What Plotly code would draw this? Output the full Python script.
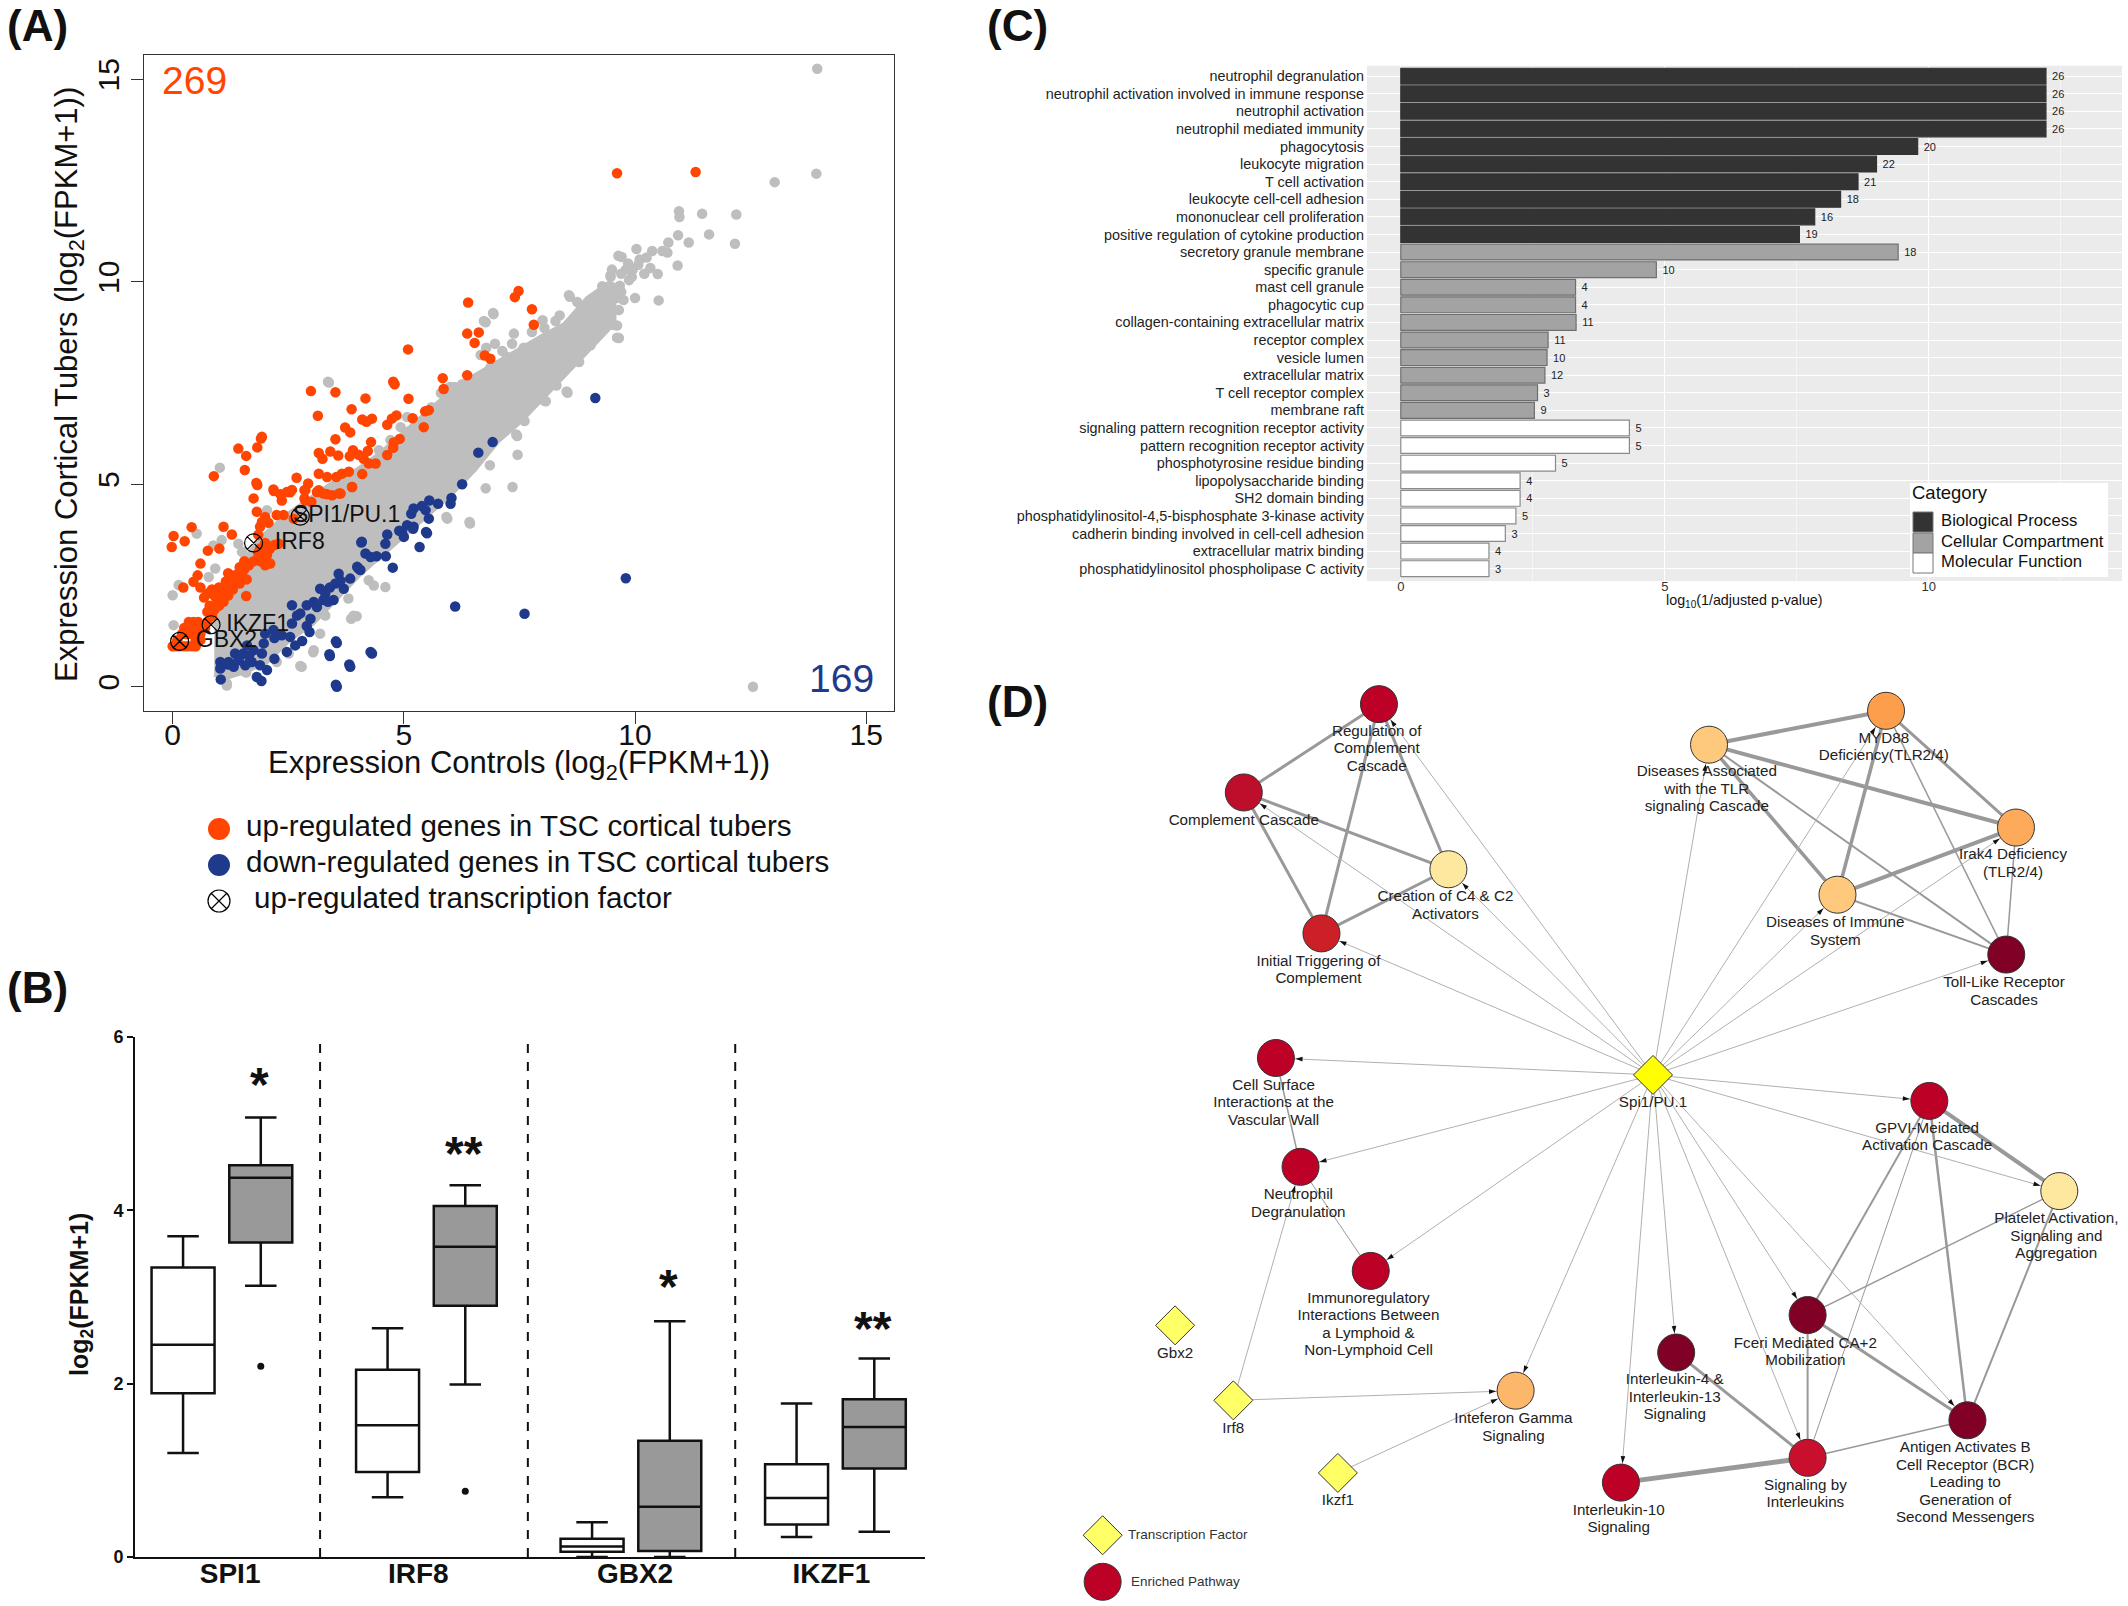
import math
import plotly.graph_objects as go

W, H = 2128, 1606

# ---------- Panel A data: (x, y) ----------
band_x = [0.9, 1.2, 1.5, 2.0, 2.5, 3.0, 3.5, 4.0, 4.5, 5.0, 5.5, 6.0, 6.5, 7.0, 7.5, 8.0, 8.5, 9.0, 9.5]
band_up = [1.5, 2.4, 3.0, 3.7, 4.2, 4.6, 5.0, 5.3, 5.7, 6.2, 6.7, 7.2, 7.6, 7.95, 8.3, 8.6, 8.9, 9.55, 9.95]
band_lo = [0.35, 0.3, 0.4, 0.65, 1.2, 1.6, 2.2, 2.8, 3.3, 3.8, 4.3, 4.8, 5.4, 6.1, 6.6, 7.2, 7.8, 8.4, 9.0]

gray_pts = [
(8.57,9.67),(6.93,9.23),(6.73,9.03),(8.0,9.05),(8.37,9.17),(8.28,9.03),(8.04,8.86),(7.77,8.76),(7.38,8.72),(7.34,8.47),
(7.59,8.37),(6.97,8.47),(6.78,8.37),(7.13,8.29),(6.66,8.19),(7.23,8.14),(6.87,7.88),(8.75,9.5),(9.47,10.16),(9.29,9.89),
(9.64,10.64),(9.54,8.93),(9.61,8.62),(8.52,7.29),(8.04,7.06),(8.3,7.44),(7.61,6.56),(7.43,6.23),(6.26,7.47),(6.0,7.4),
(6.51,7.36),(6.77,7.53),(8.79,8.02),(9.04,8.43),(13.94,15.26),(13.92,12.67),(13.02,12.46),(10.95,11.74),(10.96,11.6),
(11.45,11.68),(12.19,11.66),(10.93,11.15),(11.6,11.17),(11.16,10.97),(12.16,10.94),(10.72,10.97),(10.03,10.81),(10.37,10.76),
(10.59,10.76),(10.7,10.72),(9.71,10.61),(10.07,10.42),(10.33,10.34),(10.49,10.19),(10.92,10.4),(9.93,10.12),(10.0,9.6),
(10.51,9.54),(9.65,9.3),(9.47,10.12),(9.32,9.87),(9.61,8.92),(9.65,8.61),(8.59,9.63),(12.55,0.0),(9.67,9.9),(9.87,10.04),
(10.2,10.2),(3.38,7.51),(1.02,5.41),(6.77,9.0),(6.94,9.2),(8.54,7.26),(8.07,7.05),(7.46,5.73),(7.45,6.19),(7.35,4.93),
(6.77,4.9),(6.43,4.03),(5.94,4.15),(6.86,5.47),(4.35,2.5),(4.6,2.46),(3.86,1.68),(3.98,1.74),(3.04,0.85),(2.79,0.49),
(1.17,0.03),(1.59,0.35),(0.0,2.26),(0.13,2.51),(0.02,1.52),(0.88,3.49),(1.06,3.62),(0.52,3.78),(0.78,2.71),(0.92,2.92),
(2.04,4.36),(1.42,3.53),(1.5,3.33),(3.91,1.75),(3.8,2.18),(3.19,1.31),(3.05,0.9),(2.76,0.51),(3.3,1.76),(1.57,0.37),
(1.17,0.08),(2.25,0.61),(2.51,0.82),(4.24,2.63),(3.36,7.53),(4.93,6.41),(5.92,4.19),(6.42,4.07),(5.07,6.66),(4.71,6.09),(4.46,5.84),
(5.8,7.25),(6.1,7.4),(6.3,7.45),(5.6,6.9),(5.3,6.4),(5.1,6.3),(9.7,10.2),(9.8,10.3),(9.6,9.6),(9.7,9.75),(9.5,10.3),
(9.85,10.45),(9.95,10.3),(10.1,10.55),(10.25,10.6),(9.75,9.55),
]
up_pts = [
(-0.02,3.45),(0.02,3.72),(0.26,3.59),(0.41,3.94),(1.10,3.95),(1.28,3.76),(0.76,3.36),(1.01,3.41),(0.60,3.04),(0.23,2.45),
(0.54,2.75),(0.45,2.59),(0.60,2.45),(1.59,2.24),(0.0,1.0),(0.08,1.0),(0.16,1.0),(0.25,1.0),(0.33,1.0),(0.42,1.0),(0.5,1.0),
(0.1,1.15),(0.5,1.15),(0.6,1.15),(0.2,1.3),(0.3,1.3),(0.4,1.3),(0.5,1.3),(0.6,1.3),(0.25,1.45),(0.35,1.45),(0.45,1.45),
(0.6,1.45),(0.7,1.45),(0.35,1.6),(0.45,1.6),(0.55,1.6),(0.75,1.6),(0.85,1.75),(0.75,1.85),(0.9,1.9),(1.0,2.0),(0.8,2.0),
(0.95,2.1),(1.1,2.1),(0.9,2.25),(1.05,2.3),(1.2,2.25),(1.0,2.45),(0.85,2.4),(0.75,2.3),(0.68,2.2),(1.15,2.4),(1.3,2.4),
(1.15,2.6),(1.3,2.6),(1.45,2.55),(1.35,2.75),(1.2,2.8),(1.5,2.75),(1.6,2.65),(1.45,2.95),(1.55,2.9),(1.65,3.0),(1.55,3.1),
(1.75,3.1),(1.9,3.1),(2.0,3.0),(1.95,3.2),(1.85,3.3),(2.1,3.4),(2.2,3.5),(2.0,3.55),(1.85,3.75),(1.82,4.32),(1.93,4.07),
(1.89,3.95),(2.07,4.05),(2.40,4.24),(2.62,4.15),(2.25,4.24),(2.0,4.19),(1.75,4.65),(1.81,5.03),(2.18,4.87),(2.33,4.75),
(2.47,4.81),(2.87,4.85),(2.87,4.6),(3.16,4.85),(3.34,4.75),(3.6,4.77),(3.88,4.93),(2.29,3.53),(1.89,3.41),(2.04,3.25),(2.11,3.04),
(5.09,8.33),(6.37,8.72),(6.53,8.49),(5.84,7.62),(6.37,7.69),(5.86,7.35),(4.77,7.53),(4.80,7.47),(2.99,7.3),(3.52,7.27),
(4.17,7.12),(5.1,7.11),(3.87,6.85),(5.46,6.8),(5.54,6.83),(3.14,6.69),(5.19,6.63),(4.1,6.6),(4.19,6.54),(4.31,6.62),
(4.64,6.47),(4.74,6.62),(4.84,6.7),(3.73,6.4),(3.84,6.28),(5.43,6.41),(3.52,6.11),(4.29,6.04),(4.91,6.12),(4.78,6.03),
(4.77,5.9),(3.16,5.77),(3.41,5.81),(3.58,5.71),(3.24,5.63),(3.9,5.84),(3.83,5.69),(4.02,5.73),(4.22,5.82),(4.13,5.63),
(4.64,5.72),(4.24,5.51),(4.39,5.51),(4.1,5.25),(3.81,5.31),(3.66,5.26),(3.54,5.18),(3.34,5.18),(3.16,5.26),(2.68,5.16),
(2.93,5.02),(3.88,4.93),(2.85,4.85),(2.54,4.8),(2.85,4.65),(3.12,4.81),(3.26,4.77),(3.45,4.73),(3.63,4.77),(3.0,4.56),
(2.36,4.6),(1.93,6.17),(1.91,6.13),(1.83,5.91),(1.42,5.88),(1.59,5.7),(1.56,5.35),(0.89,5.2),(1.83,4.98),(2.19,4.83),(2.58,4.86),
(7.48,9.77),(7.4,9.62),(6.39,9.49),(7.77,9.32),(7.81,8.94),(6.62,8.75),(6.75,8.18),(6.87,8.10),(9.61,12.68),(11.31,12.71),
]
down_pts = [
(1.04,0.18),(1.82,0.24),(1.92,0.14),(2.2,0.69),(2.04,0.41),(3.39,0.8),(3.82,0.55),(3.53,1.12),(3.53,0.05),(4.28,0.86),
(1.03,0.61),(1.03,0.45),(1.21,0.61),(1.32,0.49),(1.42,0.65),(1.57,0.53),(1.71,0.61),(1.89,0.53),(1.35,0.82),(1.53,0.82),
(1.75,0.9),(1.93,0.82),(1.61,1.02),(1.97,1.07),(2.0,1.31),(2.18,1.4),(2.36,1.27),(2.54,1.23),(2.47,0.86),(2.65,1.02),
(2.8,1.13),(2.96,1.35),(2.58,1.56),(2.69,1.76),(2.58,2.01),(2.9,2.01),(3.05,2.09),(3.19,2.42),(3.26,2.14),(3.48,2.14),
(3.52,2.55),(3.59,2.79),(3.7,2.42),(3.84,2.67),(3.99,2.96),(4.09,3.58),(4.17,3.29),(4.06,2.88),(4.28,3.2),(2.76,1.81),
(2.98,1.68),(3.12,1.97),(6.61,5.78),(6.26,5.0),(6.03,4.66),(6.01,4.52),(5.74,4.52),(5.55,4.6),(5.39,4.46),(5.21,4.4),
(5.16,4.27),(5.47,4.36),(5.54,4.15),(5.07,3.99),(5.21,3.95),(4.96,3.82),(5.0,3.7),(5.48,3.82),(4.64,3.76),(4.6,3.53),
(4.08,3.56),(5.34,3.45),(9.14,7.13),(6.92,6.04),(9.8,2.68),(6.11,1.98),(7.61,1.8),(4.31,0.82),(3.84,0.49),(3.4,0.76),
(3.55,1.08),(3.55,0.0),(4.76,2.94),(4.02,2.92),(4.41,3.22),(4.61,3.22),(5.2,3.9),(5.5,3.79),(3.63,2.62),(3.36,2.1),
(1.2,0.55),(1.45,0.75),(1.65,0.75),(2.2,1.2),(2.9,1.5),(3.3,2.3),(3.4,2.45),(4.9,3.85),
]
tf_names = ["SPI1/PU.1", "IRF8", "IKZF1", "GBX2"]
tf_x = [2.76, 1.75, 0.83, 0.15]
tf_y = [4.21, 3.55, 1.53, 1.12]
tf_label_x = [2.6, 2.21, 1.16, 0.5]

# ---------- Panel B data ----------
genes = ["SPI1", "IRF8", "GBX2", "IKZF1"]
ctrl_low = [1.2, 0.69, 0.0, 0.23]
ctrl_q1 = [1.89, 0.98, 0.06, 0.375]
ctrl_med = [2.45, 1.52, 0.12, 0.68]
ctrl_q3 = [3.34, 2.16, 0.21, 1.07]
ctrl_up = [3.70, 2.64, 0.40, 1.77]
tub_low = [3.13, 1.99, 0.0, 0.29]
tub_q1 = [3.63, 2.90, 0.07, 1.02]
tub_med = [4.375, 3.58, 0.58, 1.50]
tub_q3 = [4.52, 4.05, 1.34, 1.82]
tub_up = [5.07, 4.29, 2.72, 2.29]
tub_out_gene = [0, 1]
tub_out = [2.2, 0.76]
stars = ["*", "**", "*", "**"]
star_y = [5.53, 4.74, 3.2, 2.72]

# ---------- Panel C data ----------
bp_terms = ["neutrophil degranulation", "neutrophil activation involved in immune response", "neutrophil activation",
            "neutrophil mediated immunity", "phagocytosis", "leukocyte migration", "T cell activation",
            "leukocyte cell-cell adhesion", "mononuclear cell proliferation", "positive regulation of cytokine production"]
bp_vals = [12.22, 12.22, 12.22, 12.22, 9.79, 9.01, 8.66, 8.33, 7.84, 7.55]
bp_n = [26, 26, 26, 26, 20, 22, 21, 18, 16, 19]
cc_terms = ["secretory granule membrane", "specific granule", "mast cell granule", "phagocytic cup",
            "collagen-containing extracellular matrix", "receptor complex", "vesicle lumen", "extracellular matrix",
            "T cell receptor complex", "membrane raft"]
cc_vals = [9.42, 4.84, 3.31, 3.31, 3.32, 2.79, 2.77, 2.73, 2.59, 2.53]
cc_n = [18, 10, 4, 4, 11, 11, 10, 12, 3, 9]
mf_terms = ["signaling pattern recognition receptor activity", "pattern recognition receptor activity",
            "phosphotyrosine residue binding", "lipopolysaccharide binding", "SH2 domain binding",
            "phosphatidylinositol-4,5-bisphosphate 3-kinase activity", "cadherin binding involved in cell-cell adhesion",
            "extracellular matrix binding", "phosphatidylinositol phospholipase C activity"]
mf_vals = [4.33, 4.33, 2.93, 2.26, 2.26, 2.18, 1.98, 1.67, 1.67]
mf_n = [5, 5, 5, 4, 4, 5, 3, 4, 3]

# ---------- Panel D data ----------
nodes = {
 "reg": (561, 73, "#BD0026", "Regulation of<br>Complement<br>Cascade", 558, 148),
 "comp": (380, 219, "#BD0F2C", "Complement Cascade", 380, 266),
 "c4": (654, 346, "#FEE8A0", "Creation of C4 & C2<br>Activators", 650, 407),
 "init": (484, 452, "#CB2027", "Initial Triggering of<br>Complement", 480, 514),
 "da": (1003, 140, "#FEC97C", "Diseases Associated<br>with the TLR<br>signaling Cascade", 1000, 215),
 "myd": (1240, 84, "#FD9E4C", "MYD88<br>Deficiency(TLR2/4)", 1237, 145),
 "irak": (1414, 277, "#FDAA5A", "Irak4 Deficiency<br>(TLR2/4)", 1410, 338),
 "di": (1175, 388, "#FEC97C", "Diseases of Immune<br>System", 1172, 450),
 "toll": (1401, 487, "#800026", "Toll-Like Receptor<br>Cascades", 1398, 549),
 "cell": (423, 658, "#BD0026", "Cell Surface<br>Interactions at the<br>Vascular Wall", 420, 733),
 "neut": (456, 838, "#BD0026", "Neutrophil<br>Degranulation", 453, 900),
 "immu": (550, 1010, "#BD0026", "Immunoregulatory<br>Interactions Between<br>a Lymphoid &<br>Non-Lymphoid Cell", 547, 1100),
 "gpvi": (1298, 729, "#BD0026", "GPVI-Meidated<br>Activation Cascade", 1295, 790),
 "plat": (1472, 878, "#FEE8A0", "Platelet Activation,<br>Signaling and<br>Aggregation", 1468, 954),
 "fce": (1135, 1083, "#800026", "Fceri Mediated CA+2<br>Mobilization", 1132, 1145),
 "il4": (959, 1145, "#800026", "Interleukin-4 &<br>Interleukin-13<br>Signaling", 957, 1220),
 "bcr": (1349, 1257, "#800026", "Antigen Activates B<br>Cell Receptor (BCR)<br>Leading to<br>Generation of<br>Second Messengers", 1346, 1361),
 "sig": (1135, 1319, "#C8102E", "Signaling by<br>Interleukins", 1132, 1380),
 "il10": (885, 1360, "#BD0026", "Interleukin-10<br>Signaling", 882, 1421),
 "ifn": (744, 1208, "#FDB76B", "Inteferon Gamma<br>Signaling", 741, 1270),
}
tfs = {
 "spi": (928, 686, "#FFFF00", "Spi1/PU.1", 928, 732),
 "gbx": (288, 1100, "#FFFF66", "Gbx2", 288, 1147),
 "irf": (366, 1224, "#FFFF66", "Irf8", 366, 1271),
 "ikz": (506, 1344, "#FFFF66", "Ikzf1", 506, 1390),
}
pathway_edges = [
 ("reg","comp",3),("reg","init",3),("reg","c4",3),("comp","init",3),("comp","c4",3),("init","c4",3),
 ("da","myd",4),("da","irak",4),("da","di",3.5),("myd","irak",3),("myd","di",3.5),("irak","di",4),
 ("da","toll",2),("myd","toll",1.5),("irak","toll",1.5),("di","toll",2),
 ("cell","neut",1.5),("neut","immu",1),
 ("gpvi","plat",4),("gpvi","fce",2),("gpvi","sig",1),("gpvi","bcr",2.5),("plat","fce",1.5),("plat","bcr",2),
 ("fce","sig",2),("fce","bcr",3),("il4","sig",3),("il10","sig",5),("sig","bcr",1.5),
]
reg_edges = [("spi",t) for t in ["reg","comp","c4","init","da","myd","irak","di","toll","cell","neut","immu",
                                  "gpvi","plat","fce","il4","bcr","sig","il10","ifn"]]
reg_edges += [("irf","ifn"),("ikz","ifn"),("irf","neut")]


def xd(a, b):
    return [a / W, b / W]


def yd(top, bottom):
    return [1 - bottom / H, 1 - top / H]


fig = go.Figure()
A = dict(xaxis="x", yaxis="y")
B = dict(xaxis="x2", yaxis="y2")
C = dict(xaxis="x3", yaxis="y3")
D = dict(xaxis="x4", yaxis="y4")
K = dict(xaxis="x5", yaxis="y5")
GRAY, ORANGE, BLUE = "#BEBEBE", "#FF4500", "#1F3A8C"

# Panel A
fig.add_trace(go.Scatter(x=band_x + band_x[::-1], y=band_up + band_lo[::-1], mode="lines", fill="toself",
                         fillcolor=GRAY, line=dict(color=GRAY, width=9), hoverinfo="skip", showlegend=False, **A))
fig.add_trace(go.Scatter(x=[p[0] for p in gray_pts], y=[p[1] for p in gray_pts], mode="markers", name="not regulated",
                         marker=dict(color=GRAY, size=10.5), showlegend=False, **A))
fig.add_trace(go.Scatter(x=[p[0] for p in down_pts], y=[p[1] for p in down_pts], mode="markers",
                         name="down-regulated genes in TSC cortical tubers",
                         marker=dict(color=BLUE, size=10.5), showlegend=False, **A))
fig.add_trace(go.Scatter(x=[p[0] for p in up_pts], y=[p[1] for p in up_pts], mode="markers",
                         name="up-regulated genes in TSC cortical tubers",
                         marker=dict(color=ORANGE, size=10.5), showlegend=False, **A))
fig.add_trace(go.Scatter(x=tf_x, y=tf_y, mode="markers", name="up-regulated transcription factor",
                         marker=dict(symbol="circle-x-open", size=18, color="#000", line=dict(width=1.2, color="#000")),
                         showlegend=False, **A))
fig.add_trace(go.Scatter(x=tf_label_x, y=tf_y, mode="text", text=tf_names, textposition="middle right",
                         textfont=dict(size=23, color="#111", family="Liberation Sans"), showlegend=False, **A))

# Panel B
OFF = 0.19
gi = list(range(len(genes)))
common = dict(whiskerwidth=0.5, showlegend=False, width=0.308, boxpoints=False)
fig.add_trace(go.Box(x=[i - OFF for i in gi], lowerfence=ctrl_low, q1=ctrl_q1, median=ctrl_med, q3=ctrl_q3, upperfence=ctrl_up,
                     name="Controls", fillcolor="white", line=dict(color="#111", width=2.5), **common, **B))
fig.add_trace(go.Box(x=[i + OFF for i in gi], lowerfence=tub_low, q1=tub_q1, median=tub_med, q3=tub_q3, upperfence=tub_up,
                     name="Cortical tubers", fillcolor="#999999", line=dict(color="#111", width=2.5), **common, **B))
fig.add_trace(go.Scatter(x=[i + OFF for i in tub_out_gene], y=tub_out, mode="markers", marker=dict(color="#111", size=7),
                         showlegend=False, **B))

# Panel C
cat_order = bp_terms + cc_terms + mf_terms
for terms, vals, n, fill, edge, name in [
    (bp_terms, bp_vals, bp_n, "#333333", "#333333", "Biological Process"),
    (cc_terms, cc_vals, cc_n, "#A3A3A3", "#6E6E6E", "Cellular Compartment"),
    (mf_terms, mf_vals, mf_n, "#FFFFFF", "#8A8A8A", "Molecular Function"),
]:
    fig.add_trace(go.Bar(x=vals, y=terms, orientation="h", name=name, width=0.9, text=[f"\u00a0{v}" for v in n],
                         textposition="outside", textfont=dict(size=11, color="#222"), cliponaxis=False,
                         marker=dict(color=fill, line=dict(color=edge, width=1.2)), showlegend=False, **C))

# Panel D: edges
kx, ky = 1168 / 1564, 946 / 1564
allnodes = {**nodes, **tfs}
widths = sorted({e[2] for e in pathway_edges})
for w in widths:
    xs, ys = [], []
    for a, b, ww in pathway_edges:
        if ww == w:
            xs += [allnodes[a][0], allnodes[b][0], None]
            ys += [allnodes[a][1], allnodes[b][1], None]
    fig.add_trace(go.Scatter(x=xs, y=ys, mode="lines", line=dict(color="#999999", width=w), hoverinfo="skip",
                             showlegend=False, **D))
xs, ys, tipx, tipy, ang = [], [], [], [], []
for a, b in reg_edges:
    sx, sy = allnodes[a][0], allnodes[a][1]
    tx, ty = allnodes[b][0], allnodes[b][1]
    dx, dy = (tx - sx) * kx, (ty - sy) * ky
    L = math.hypot(dx, dy)
    xs += [sx, tx, None]
    ys += [sy, ty, None]
    tipx.append(tx - dx / L * 19.5 / kx)
    tipy.append(ty - dy / L * 19.5 / ky)
    ang.append(math.degrees(math.atan2(dx, -dy)))
fig.add_trace(go.Scatter(x=xs, y=ys, mode="lines", line=dict(color="#B0B0B0", width=1), hoverinfo="skip",
                         showlegend=False, **D))
fig.add_trace(go.Scatter(x=[n[0] for n in nodes.values()], y=[n[1] for n in nodes.values()], mode="markers",
                         marker=dict(size=37, color=[n[2] for n in nodes.values()], line=dict(color="#333", width=1)),
                         text=[n[3] for n in nodes.values()], hoverinfo="text", showlegend=False, **D))
fig.add_trace(go.Scatter(x=[n[0] for n in tfs.values()], y=[n[1] for n in tfs.values()], mode="markers",
                         marker=dict(size=30, symbol="diamond", color=[n[2] for n in tfs.values()], line=dict(color="#333", width=1)),
                         text=[n[3] for n in tfs.values()], hoverinfo="text", showlegend=False, **D))
fig.add_trace(go.Scatter(x=tipx, y=tipy, mode="markers", marker=dict(symbol="arrow", size=7.5, angle=ang, color="#111",
                         line=dict(width=0)), hoverinfo="skip", showlegend=False, **D))
# node labels, one text per line so the tight line pitch of the original can be kept
PITCH = 17.5 / ky
lab_x, lab_y, lab_t = [], [], []
for n in allnodes.values():
    lines = n[3].split("<br>")
    for i, line in enumerate(lines):
        lab_x.append(n[4])
        lab_y.append(n[5] + (i - (len(lines) - 1) / 2) * PITCH)
        lab_t.append(line)
fig.add_trace(go.Scatter(x=lab_x, y=lab_y, mode="text", text=lab_t, textposition="middle center",
                         textfont=dict(size=15.2, color="#222", family="Liberation Sans"), hoverinfo="skip",
                         showlegend=False, **D))
fig.add_trace(go.Scatter(x=[191], y=[1447], mode="markers", text=["Transcription Factor"], hoverinfo="text",
                         marker=dict(size=30, symbol="diamond", color="#FFFF66", line=dict(color="#333", width=1)),
                         showlegend=False, **D))
fig.add_trace(go.Scatter(x=[191], y=[1524], mode="markers", text=["Enriched Pathway"], hoverinfo="text",
                         marker=dict(size=37, color="#BD0026", line=dict(color="#333", width=1)),
                         showlegend=False, **D))
fig.add_trace(go.Scatter(x=[225, 229], y=[1447, 1526], mode="text", text=["Transcription Factor", "Enriched Pathway"],
                         textposition="middle right", textfont=dict(size=13.5, color="#333", family="Liberation Sans"),
                         hoverinfo="skip", showlegend=False, **D))

# Keys for panels A and C, drawn on a page-sized hidden axis
fig.add_trace(go.Scatter(x=[219, 219], y=[829, 865], mode="markers", marker=dict(size=22, color=[ORANGE, BLUE]),
                         hoverinfo="skip", showlegend=False, **K))
fig.add_trace(go.Scatter(x=[219], y=[901], mode="markers",
                         marker=dict(symbol="circle-x-open", size=22, color="#000", line=dict(width=1.2, color="#000")),
                         hoverinfo="skip", showlegend=False, **K))
fig.add_trace(go.Scatter(x=[246, 246, 254], y=[829, 865, 901], mode="text", textposition="middle right",
                         text=["up-regulated genes in TSC cortical tubers", "down-regulated genes in TSC cortical tubers",
                               "up-regulated transcription factor"],
                         textfont=dict(size=29.6, color="#111", family="Liberation Sans"), showlegend=False, **K))
fig.add_trace(go.Scatter(x=[1910, 2108, 2108, 1910, 1910], y=[483, 483, 577, 577, 483], mode="lines", fill="toself",
                         fillcolor="white", line=dict(width=0), hoverinfo="skip", showlegend=False, **K))
fig.add_trace(go.Scatter(x=[1923, 1923, 1923], y=[522, 543, 563], mode="markers",
                         marker=dict(symbol="square", size=20, color=["#333333", "#A3A3A3", "#FFFFFF"],
                                     line=dict(color="#777", width=1)), hoverinfo="skip", showlegend=False, **K))
fig.add_trace(go.Scatter(x=[1941, 1941, 1941], y=[522, 543, 563], mode="text", textposition="middle right",
                         text=["Biological Process", "Cellular Compartment", "Molecular Function"],
                         textfont=dict(size=16.7, color="#111", family="Liberation Sans"), showlegend=False, **K))
fig.add_trace(go.Scatter(x=[1912], y=[494], mode="text", textposition="middle right", text=["Category"],
                         textfont=dict(size=18.5, color="#111", family="Liberation Sans"), showlegend=False, **K))

ann = []
for txt, x, y in [("(A)", 5, 26), ("(B)", 5, 987), ("(C)", 985, 26), ("(D)", 985, 701)]:
    ann.append(dict(text=f"<b>{txt}</b>", x=x / W, y=1 - y / H, xref="paper", yref="paper", xanchor="left", yanchor="middle",
                    showarrow=False, font=dict(size=44, color="#111")))
ann.append(dict(text="269", x=0.47, y=14.97, xref="x", yref="y", showarrow=False, font=dict(size=39, color=ORANGE)))
ann.append(dict(text="169", x=14.46, y=0.2, xref="x", yref="y", showarrow=False, font=dict(size=39, color=BLUE)))
for i, (s, y) in enumerate(zip(stars, star_y)):
    ann.append(dict(text=f"<b>{s}</b>", x=i + OFF - 0.005, y=y - 0.08, xref="x2", yref="y2", showarrow=False,
                    font=dict(size=48, color="#111")))
# Axis titles placed on the page
for txt, x, y, size, rot in [
    ("Expression Controls (log<sub>2</sub>(FPKM+1))", 519, 765, 31, 0),
    ("Expression Cortical Tubers (log<sub>2</sub>(FPKM+1))", 69, 385, 31, -90),
    ("<b>log<sub>2</sub>(FPKM+1)</b>", 81, 1295, 25, -90),
    ("log<sub>10</sub>(1/adjusted p-value)", 1744, 601, 14.3, 0),
]:
    ann.append(dict(text=txt, x=x / W, y=1 - y / H, xref="paper", yref="paper", xanchor="center", yanchor="middle",
                    showarrow=False, textangle=rot, font=dict(size=size, color="#111")))

dash_shapes = [dict(type="line", xref="x2", yref="y2", x0=v, x1=v, y0=0, y1=6,
                    line=dict(color="#111", width=2, dash="dash")) for v in (0.48, 1.496, 2.51)]

fig.update_layout(
    template="none", width=W, height=H, margin=dict(l=0, r=0, t=0, b=0), paper_bgcolor="white", plot_bgcolor="rgba(0,0,0,0)",
    font=dict(family="Liberation Sans"), showlegend=False, annotations=ann, shapes=dash_shapes,
    boxmode="overlay", barmode="overlay",
    xaxis=dict(anchor="y", domain=xd(144, 894), range=[-0.62, 15.6], tickvals=[0, 5, 10, 15], ticks="outside", ticklen=12, tickwidth=1,
               tickcolor="#333", showline=True, mirror=True, linecolor="#333", showgrid=False, zeroline=False, automargin=False,
               ticklabelstandoff=-15, tickfont=dict(size=30, color="#111")),
    yaxis=dict(anchor="x", domain=yd(55, 711), range=[-0.6, 15.6], tickvals=[0, 5, 10, 15], ticks="outside", ticklen=12, tickwidth=1,
               tickcolor="#333", showline=True, mirror=True, linecolor="#333", showgrid=False, zeroline=False, tickangle=-90,
               automargin=False, tickfont=dict(size=30, color="#111")),
    xaxis2=dict(anchor="y2", domain=xd(135, 925), range=[-0.425, 3.438], tickmode="array", tickvals=[0.04, 0.96, 2.02, 2.98], ticktext=[f"<b>{g}</b>" for g in genes],
                showline=True, linecolor="#111", linewidth=2, showgrid=False, ticks="", zeroline=False, automargin=False,
                ticklabelstandoff=-10, tickfont=dict(size=28, color="#111")),
    yaxis2=dict(anchor="x2", domain=yd(1037, 1557), range=[0, 6], tickvals=[0, 2, 4, 6], ticktext=["<b>0</b>", "<b>2</b>", "<b>4</b>", "<b>6</b>"],
                ticks="outside", ticklen=6, tickwidth=2, automargin=False,
                tickcolor="#111", showline=True, linecolor="#111", linewidth=2, showgrid=False, zeroline=False,
                tickfont=dict(size=18, color="#111")),
    xaxis3=dict(anchor="y3", domain=xd(1367, 2122), range=[-0.64, 13.66], tickvals=[0, 5, 10], showgrid=True, gridcolor="white", gridwidth=1,
                zeroline=False, tickfont=dict(size=13, color="#333"), ticks="", automargin=False, ticklabelstandoff=-4,
                minor=dict(dtick=2.5, showgrid=True, gridcolor="#F5F5F5", gridwidth=0.5)),
    yaxis3=dict(anchor="x3", domain=yd(65.6, 581), range=[28.7, -0.6], type="category", categoryorder="array", categoryarray=cat_order,
                tickmode="array", tickvals=cat_order, showgrid=True, gridcolor="white", gridwidth=1, ticks="", automargin=False,
                ticklabelstandoff=2, tickfont=dict(size=14.4, color="#222"), zeroline=False),
    xaxis4=dict(anchor="y4", domain=xd(960, 2128), range=[0, 1564], visible=False, fixedrange=True),
    yaxis4=dict(anchor="x4", domain=yd(660, 1606), range=[1564, 0], visible=False, fixedrange=True),
    xaxis5=dict(anchor="y5", domain=[0, 1], range=[0, W], visible=False, fixedrange=True),
    yaxis5=dict(anchor="x5", domain=[0, 1], range=[H, 0], visible=False, fixedrange=True),
)
# Panel C plot background
fig.add_shape(type="rect", xref="x3", yref="y3", x0=-0.64, x1=13.66, y0=28.7, y1=-0.6, fillcolor="#EBEBEB", line=dict(width=0), layer="below")

fig.write_html("out.html", config={"displayModeBar": False}, post_script="document.body.style.margin='0';")
